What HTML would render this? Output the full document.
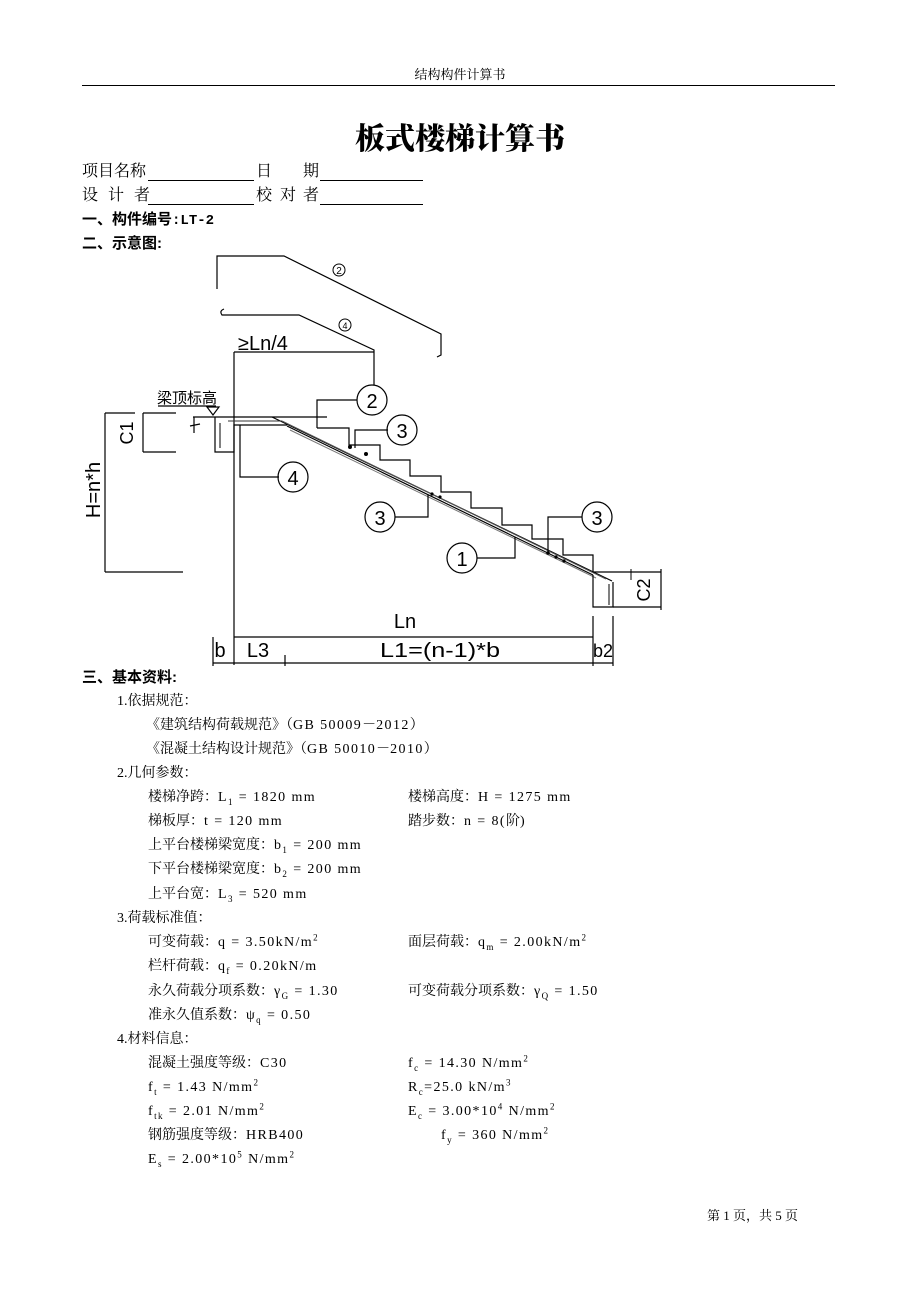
<!DOCTYPE html>
<html><head><meta charset="utf-8">
<style>
html,body{margin:0;padding:0;background:#fff;}
body{width:920px;height:1302px;position:relative;overflow:hidden;}
.t{position:absolute;white-space:pre;font:14px "Liberation Serif","Noto Serif CJK SC",serif;line-height:18px;color:#000;}
.a{letter-spacing:1.4px;}
.h{font-family:"Liberation Sans","Noto Sans CJK SC",sans-serif;font-weight:bold;font-size:15px;}
.ul{position:absolute;height:0;border-top:1px solid #000;}
sub,sup{font-size:9px;line-height:0;}
</style></head><body>
<div class="t" style="left:0;width:920px;text-align:center;top:66px;font-size:13px;">结构构件计算书</div>
<div style="position:absolute;left:82px;top:85px;width:753px;border-top:1px solid #000;"></div>
<div class="t" style="left:0;width:920px;text-align:center;top:118px;font-size:30px;line-height:36px;font-family:'Noto Serif CJK SC','Noto Sans CJK SC',serif;font-weight:900;">板式楼梯计算书</div>

<div class="t" style="left:82px;top:163px;font-size:16px;">项目名称</div>
<div class="ul" style="left:148px;top:180px;width:106px;"></div>
<div class="t" style="left:256px;top:163px;font-size:16px;">日</div>
<div class="t" style="left:303px;top:163px;font-size:16px;">期</div>
<div class="ul" style="left:320px;top:180px;width:103px;"></div>
<div class="t" style="left:82px;top:187px;font-size:16px;">设</div>
<div class="t" style="left:108px;top:187px;font-size:16px;">计</div>
<div class="t" style="left:134px;top:187px;font-size:16px;">者</div>
<div class="ul" style="left:148px;top:204px;width:106px;"></div>
<div class="t" style="left:256px;top:187px;font-size:16px;">校</div>
<div class="t" style="left:280px;top:187px;font-size:16px;">对</div>
<div class="t" style="left:303px;top:187px;font-size:16px;">者</div>
<div class="ul" style="left:320px;top:204px;width:103px;"></div>
<div class="t h" style="left:82px;top:211px;">一、构件编号<span style="font-family:'Liberation Mono',monospace;font-weight:bold;font-size:14px;">:LT-2</span></div>
<div class="t h" style="left:82px;top:235px;">二、示意图:</div>

<svg width="920" height="1302" style="position:absolute;left:0;top:0;" xmlns="http://www.w3.org/2000/svg">
<g fill="none" stroke="#000" stroke-width="1.2">
<polyline points="217,289 217,256 284,256 441,334 441,355 437,357"/>
<circle cx="339" cy="270" r="6" stroke-width="1"/>
<path d="M224,309 Q219,311 222,315 L299,315 L374,350 L374,385"/>
<circle cx="345" cy="325" r="6" stroke-width="1"/>
<line x1="234" y1="352" x2="374" y2="352"/>
<line x1="234" y1="352" x2="234" y2="665"/>
<line x1="158" y1="406" x2="216" y2="406"/>
<polygon points="207,407 219,407 213,415"/>
<line x1="193" y1="417" x2="327" y2="417"/>
<polyline points="194,417 194,433"/>
<polyline points="215,417 215,452 234,452 234,425 287,425"/>
<line x1="190" y1="426" x2="200" y2="424"/>
<line x1="272" y1="417" x2="612" y2="581"/>
<line x1="287" y1="426" x2="593" y2="575"/>
<line x1="290" y1="430" x2="596" y2="578" stroke="#777" stroke-width="1"/>
<line x1="228" y1="421" x2="282" y2="421" stroke="#333" stroke-width="1"/>
<line x1="282" y1="421" x2="606" y2="579" stroke="#555" stroke-width="1"/>
<line x1="220" y1="423" x2="220" y2="448" stroke-width="1"/>
<polyline points="593,575 593,607 613,607 613,582"/>
<line x1="609" y1="584" x2="609" y2="605" stroke-width="1"/>
<line x1="593" y1="572" x2="661" y2="572"/>
<line x1="613" y1="607" x2="661" y2="607"/>
<line x1="661" y1="569" x2="661" y2="610"/>
<line x1="631" y1="569" x2="631" y2="580" stroke-width="1"/>
<polyline points="317,428 349,428 349,445 380,445 380,460 410,460 410,476 441,476 441,492 471,492 471,508 502,508 502,525 532,525 532,539 563,539 563,555 593,555 593,572"/>
<polyline points="357,400 317,400 317,428"/>
<circle cx="372" cy="400" r="15"/>
<polyline points="388,430 355,430 355,448"/>
<circle cx="402" cy="430" r="15"/>
<polyline points="279,477 240,477 240,425"/>
<circle cx="293" cy="477" r="15"/>
<polyline points="395,517 428,517 428,495"/>
<circle cx="380" cy="517" r="15"/>
<polyline points="477,558 515,558 515,537"/>
<circle cx="462" cy="558" r="15"/>
<polyline points="582,517 548,517 548,552"/>
<circle cx="597" cy="517" r="15"/>
<line x1="143" y1="413" x2="143" y2="452"/>
<line x1="143" y1="413" x2="176" y2="413"/>
<line x1="143" y1="452" x2="176" y2="452"/>
<line x1="105" y1="413" x2="105" y2="572"/>
<line x1="105" y1="413" x2="135" y2="413"/>
<line x1="105" y1="572" x2="183" y2="572"/>
<line x1="234" y1="637" x2="593" y2="637"/>
<line x1="213" y1="663" x2="613" y2="663"/>
<line x1="213" y1="637" x2="213" y2="666"/>
<line x1="285" y1="655" x2="285" y2="666"/>
<line x1="593" y1="616" x2="593" y2="666"/>
<line x1="613" y1="616" x2="613" y2="666"/>
</g>
<g fill="#000">
<circle cx="350" cy="447" r="2"/><circle cx="366" cy="454" r="2"/><circle cx="432" cy="494" r="1.6"/><circle cx="440" cy="497" r="1.6"/>
<circle cx="548" cy="553" r="1.8"/><circle cx="556" cy="557" r="1.6"/><circle cx="564" cy="561" r="1.6"/>
</g>
<g font-family="'Liberation Sans','DejaVu Sans',sans-serif" fill="#000">
<text x="372" y="408" font-size="20" text-anchor="middle">2</text>
<text x="402" y="438" font-size="20" text-anchor="middle">3</text>
<text x="293" y="485" font-size="20" text-anchor="middle">4</text>
<text x="380" y="525" font-size="20" text-anchor="middle">3</text>
<text x="462" y="566" font-size="20" text-anchor="middle">1</text>
<text x="597" y="525" font-size="20" text-anchor="middle">3</text>
<text x="339" y="274" font-size="10" text-anchor="middle">2</text>
<text x="345" y="329" font-size="9" text-anchor="middle">4</text>
<text x="238" y="350" font-size="20">≥Ln/4</text>
<text x="405" y="628" font-size="20" text-anchor="middle">Ln</text>
<text x="220" y="657" font-size="20" text-anchor="middle">b</text>
<text x="258" y="657" font-size="20" text-anchor="middle">L3</text>
<text x="440" y="657" font-size="20" text-anchor="middle" textLength="120" lengthAdjust="spacingAndGlyphs">L1=(n-1)*b</text>
<text x="603" y="657" font-size="18" text-anchor="middle">b2</text>
<text transform="translate(133,433) rotate(-90)" font-size="18" text-anchor="middle">C1</text>
<text transform="translate(100,490) rotate(-90)" font-size="20" text-anchor="middle">H=n*h</text>
<text transform="translate(650,590) rotate(-90)" font-size="18" text-anchor="middle">C2</text>
</g>
<text x="187" y="403" font-size="15" text-anchor="middle" font-family="'Noto Sans CJK SC',sans-serif">梁顶标高</text>
</svg>

<div class="t h" style="left:82px;top:669px;">三、基本资料:</div>
<div class="t" style="left:117px;top:693px;">1.依据规范：</div>
<div class="t" style="left:146px;top:717px;">《建筑结构荷载规范》（<span class="a">GB 50009</span>－<span class="a">2012</span>）</div>
<div class="t" style="left:146px;top:741px;">《混凝土结构设计规范》（<span class="a">GB 50010</span>－<span class="a">2010</span>）</div>
<div class="t" style="left:117px;top:765px;">2.几何参数：</div>
<div class="t" style="left:148px;top:789px;">楼梯净跨：<span class="a">L<sub>1</sub> = 1820 mm</span></div>
<div class="t" style="left:408px;top:789px;">楼梯高度：<span class="a">H = 1275 mm</span></div>
<div class="t" style="left:148px;top:813px;">梯板厚：<span class="a">t = 120 mm</span></div>
<div class="t" style="left:408px;top:813px;">踏步数：<span class="a">n = 8(</span>阶)</div>
<div class="t" style="left:148px;top:837px;">上平台楼梯梁宽度：<span class="a">b<sub>1</sub> = 200 mm</span></div>
<div class="t" style="left:148px;top:861px;">下平台楼梯梁宽度：<span class="a">b<sub>2</sub> = 200 mm</span></div>
<div class="t" style="left:148px;top:886px;">上平台宽：<span class="a">L<sub>3</sub> = 520 mm</span></div>
<div class="t" style="left:117px;top:910px;">3.荷载标准值：</div>
<div class="t" style="left:148px;top:934px;">可变荷载：<span class="a">q = 3.50kN/m<sup>2</sup></span></div>
<div class="t" style="left:408px;top:934px;">面层荷载：<span class="a">q<sub>m</sub> = 2.00kN/m<sup>2</sup></span></div>
<div class="t" style="left:148px;top:958px;">栏杆荷载：<span class="a">q<sub>f</sub> = 0.20kN/m</span></div>
<div class="t" style="left:148px;top:983px;">永久荷载分项系数：<span class="a">γ<sub>G</sub> = 1.30</span></div>
<div class="t" style="left:408px;top:983px;">可变荷载分项系数：<span class="a">γ<sub>Q</sub> = 1.50</span></div>
<div class="t" style="left:148px;top:1007px;">准永久值系数：<span class="a">ψ<sub>q</sub> = 0.50</span></div>
<div class="t" style="left:117px;top:1031px;">4.材料信息：</div>
<div class="t" style="left:148px;top:1055px;">混凝土强度等级：<span class="a">C30</span></div>
<div class="t" style="left:408px;top:1055px;"><span class="a">f<sub>c</sub> = 14.30 N/mm<sup>2</sup></span></div>
<div class="t" style="left:148px;top:1079px;"><span class="a">f<sub>t</sub> = 1.43 N/mm<sup>2</sup></span></div>
<div class="t" style="left:408px;top:1079px;"><span class="a">R<sub>c</sub>=25.0 kN/m<sup>3</sup></span></div>
<div class="t" style="left:148px;top:1103px;"><span class="a">f<sub>tk</sub> = 2.01 N/mm<sup>2</sup></span></div>
<div class="t" style="left:408px;top:1103px;"><span class="a">E<sub>c</sub> = 3.00*10<sup>4</sup> N/mm<sup>2</sup></span></div>
<div class="t" style="left:148px;top:1127px;">钢筋强度等级：<span class="a">HRB400</span></div>
<div class="t" style="left:441px;top:1127px;"><span class="a">f<sub>y</sub> = 360 N/mm<sup>2</sup></span></div>
<div class="t" style="left:148px;top:1151px;"><span class="a">E<sub>s</sub> = 2.00*10<sup>5</sup> N/mm<sup>2</sup></span></div>

<div class="t" style="left:707px;top:1207px;font-size:13px;">第 1 页，共 5 页</div>
</body></html>
